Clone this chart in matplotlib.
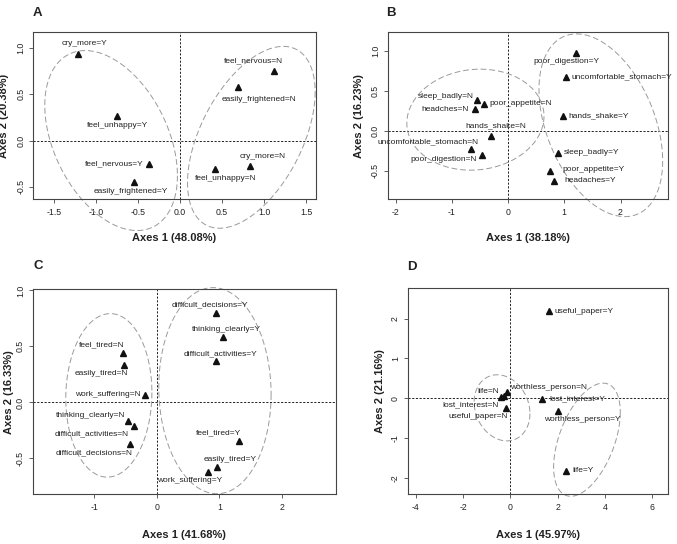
import numpy as np
import matplotlib
matplotlib.use("Agg")
import matplotlib.pyplot as plt
from matplotlib.transforms import offset_copy

plt.rcParams['font.family'] = ['Liberation Sans', 'DejaVu Sans']

DPI = 100
PX = 72.0 / DPI  # points per pixel

# ---------------- data ----------------
a_labels = ["cry_more=Y", "feel_unhappy=Y", "feel_nervous=Y", "easily_frightened=Y",
            "feel_nervous=N", "easily_frightened=N", "feel_unhappy=N", "cry_more=N"]
a_x = [-1.22, -0.75, -0.365, -0.55, 1.12, 0.69, 0.42, 0.83]
a_y = [0.93, 0.265, -0.25, -0.45, 0.755, 0.58, -0.31, -0.27]

b_labels = ["poor_digestion=Y", "uncomfortable_stomach=Y", "hands_shake=Y", "sleep_badly=Y",
            "poor_appetite=Y", "headaches=Y", "sleep_badly=N", "poor_appetite=N",
            "headches=N", "hands_shake=N", "uncomfortable_stomach=N", "poor_digestion=N"]
b_x = [1.21, 1.03, 0.97, 0.88, 0.75, 0.82, -0.55, -0.43, -0.59, -0.30, -0.65, -0.47]
b_y = [0.975, 0.67, 0.19, -0.27, -0.495, -0.62, 0.38, 0.34, 0.27, -0.06, -0.22, -0.295]

c_labels = ["difficult_decisions=Y", "thinking_clearly=Y", "difficult_activities=Y",
            "feel_tired=Y", "easily_tired=Y", "work_suffering=Y", "feel_tired=N",
            "easily_tired=N", "work_suffering=N", "thinking_clearly=N",
            "difficult_activities=N", "difficult_decisions=N"]
c_x = [0.945, 1.06, 0.945, 1.31, 0.97, 0.82, -0.55, -0.53, -0.19, -0.47, -0.37, -0.43]
c_y = [0.80, 0.58, 0.37, -0.34, -0.58, -0.62, 0.44, 0.33, 0.068, -0.17, -0.21, -0.37]

d_labels = ["useful_paper=Y", "lost_interest=Y", "worthless_person=Y", "life=Y",
            "worthless_person=N", "life=N", "lost_interest=N", "useful_paper=N"]
d_x = [1.62, 1.33, 2.02, 2.37, -0.14, -0.39, -0.27, -0.18]
d_y = [2.19, -0.01, -0.32, -1.82, 0.165, 0.02, 0.05, -0.25]

x_titles = ["Axes 1 (48.08%)", "Axes 1 (38.18%)", "Axes 1 (41.68%)", "Axes 1 (45.97%)"]
y_titles = ["Axes 2 (20.38%)", "Axes 2 (16.23%)", "Axes 2 (16.33%)", "Axes 2 (21.16%)"]
panel_letters = ["A", "B", "C", "D"]

a_xticks = [-1.5, -1.0, -0.5, 0.0, 0.5, 1.0, 1.5]
a_yticks = [-0.5, 0.0, 0.5, 1.0]
b_xticks = [-2, -1, 0, 1, 2]
b_yticks = [-0.5, 0.0, 0.5, 1.0]
c_xticks = [-1, 0, 1, 2]
c_yticks = [-0.5, 0.0, 0.5, 1.0]
d_xticks = [-4, -2, 0, 2, 4, 6]
d_yticks = [-2, -1, 0, 1, 2]

# ---------------- layout / style ----------------
# label placement: (ha, dx_px, dy_px_down)
a_lab = [("center", 7, -10.6), ("center", 0.7, 9.3), ("right", -6, 0), ("center", -3.3, 9.7),
         ("center", -20.7, -9.3), ("center", 21, 12.7), ("center", 10.7, 9.3), ("center", 13.4, -9)]
b_lab = [("center", -9.7, 8.6), ("left", 6, 0), ("left", 6, 0), ("left", 6, 0),
         ("left", 12, -1), ("left", 10.7, 0), ("right", -3, -3.7), ("left", 5.6, 0),
         ("right", -6.3, 0), ("center", 4.7, -10), ("right", 6.6, -6.7), ("right", -5, 5.4)]
c_lab = [("center", -6.4, -8), ("center", 3.3, -8.4), ("center", 4.3, -7.3),
         ("center", -20.4, -8), ("center", 12.3, -7.7), ("center", -18.7, 8.3),
         ("center", -21.3, -8.3), ("center", -23, 8), ("right", -4.7, 0),
         ("right", -2.6, -6.3), ("right", -5.4, 7.7), ("right", 2, 9)]
d_lab = [("left", 6.3, 0), ("left", 8, 0), ("center", 24.3, 8.7), ("left", 5.7, 0),
         ("left", 3.3, -4), ("right", -1.7, -6.3), ("right", -5.3, 8.4), ("right", 1.7, 8.7)]

# ellipses: (cx, cy, rx, ry, phi_deg)
a_ell = [(-0.82, 0.0, 0.79, 0.97, 113), (0.85, 0.035, 0.76, 0.98, 60)]
b_ell = [(-0.58, 0.14, 1.22, 0.63, 86), (1.65, 0.07, 1.10, 1.14, 113)]
c_ell = [(-0.77, 0.063, 0.69, 0.73, 88), (0.93, 0.105, 0.90, 0.92, 92)]
d_ell = [(-0.35, -0.24, 1.18, 0.83, 100), (3.24, -1.04, 1.41, 1.42, 61)]

# axes boxes in pixels: left, top, right, bottom
boxes = [(33, 32, 316, 199), (387.7, 32.3, 668.3, 199),
         (32.7, 289.3, 336, 494.3), (407.7, 288.3, 668.3, 494.3)]
xlims = [(-1.75, 1.62), (-2.14, 2.85), (-1.99, 2.87), (-4.34, 6.68)]
ylims = [(-0.63, 1.17), (-0.85, 1.23), (-0.82, 1.01), (-2.41, 2.76)]
ylab_off = [-29, -29, -24, -28]
xlab_off = [-39, -39, -41, -41]
letter_off = [(4.7, 18.7), (3.3, 19.6), (5.6, 23.3), (4.0, 21.6)]

W, H = 677, 544
fig = plt.figure(figsize=(W / DPI, H / DPI), dpi=DPI)
fig.patch.set_facecolor("white")

TXT = "#222222"

panels = [
    (a_labels, a_x, a_y, a_lab, a_ell, a_xticks, a_yticks, "{:.1f}", "{:.1f}"),
    (b_labels, b_x, b_y, b_lab, b_ell, b_xticks, b_yticks, "{:d}", "{:.1f}"),
    (c_labels, c_x, c_y, c_lab, c_ell, c_xticks, c_yticks, "{:d}", "{:.1f}"),
    (d_labels, d_x, d_y, d_lab, d_ell, d_xticks, d_yticks, "{:d}", "{:d}"),
]

for i, (labs, xs, ys, lab, ells, xt, yt, xf, yf) in enumerate(panels):
    l, t, r, b = boxes[i]
    ax = fig.add_axes([l / W, 1 - b / H, (r - l) / W, (b - t) / H])
    ax.set_xlim(*xlims[i])
    ax.set_ylim(*ylims[i])
    for s in ax.spines.values():
        s.set_color("#444444")
        s.set_linewidth(0.8)
    ax.axvline(0, color="#222222", lw=0.7, ls=(0, (2.2, 1.6)), zorder=1)
    ax.axhline(0, color="#222222", lw=0.7, ls=(0, (2.2, 1.6)), zorder=1)

    tt = np.linspace(0, 2 * np.pi, 300)
    for (cx, cy, rx, ry, ph) in ells:
        ex = cx + rx * np.cos(tt)
        ey = cy + ry * np.cos(tt + np.deg2rad(ph))
        ax.plot(ex, ey, color="#9a9a9a", lw=0.7, ls=(0, (6, 3)), clip_on=False, zorder=2)

    ax.plot(xs, ys, ls="none", marker="^", ms=4.3, color="#111111", zorder=3)
    for name, x, y, (ha, dx, dy) in zip(labs, xs, ys, lab):
        ax.annotate(name, (x, y), xytext=(dx * PX, -dy * PX), textcoords="offset points",
                    ha=ha, va="center", fontsize=6, color=TXT, zorder=4)

    ax.set_xticks(xt)
    ax.set_xticklabels([xf.format(v) for v in xt])
    ax.set_yticks(yt)
    ax.set_yticklabels([yf.format(v) for v in yt], rotation=90, va="center")
    ax.tick_params(axis="both", direction="out", length=3, width=0.6, colors="#444444",
                   labelsize=6.3, labelcolor=TXT)
    ax.tick_params(axis="x", pad=3.5)
    ax.tick_params(axis="y", pad=2.5)

    ax.text(0.5, 0, x_titles[i], transform=offset_copy(ax.transAxes, fig, x=0, y=xlab_off[i] * PX, units="points"),
            ha="center", va="center", fontsize=8, fontweight="bold", color=TXT)
    ax.text(0, 0.5, y_titles[i], transform=offset_copy(ax.transAxes, fig, x=ylab_off[i] * PX, y=0, units="points"),
            ha="center", va="center", rotation=90, fontsize=8, fontweight="bold", color=TXT)
    lx, ly = letter_off[i]
    ax.text(0, 1, panel_letters[i], transform=offset_copy(ax.transAxes, fig, x=lx * PX, y=ly * PX, units="points"),
            ha="center", va="center", fontsize=9.5, fontweight="bold", color=TXT)

fig.savefig("out.png", dpi=DPI, facecolor="white")
